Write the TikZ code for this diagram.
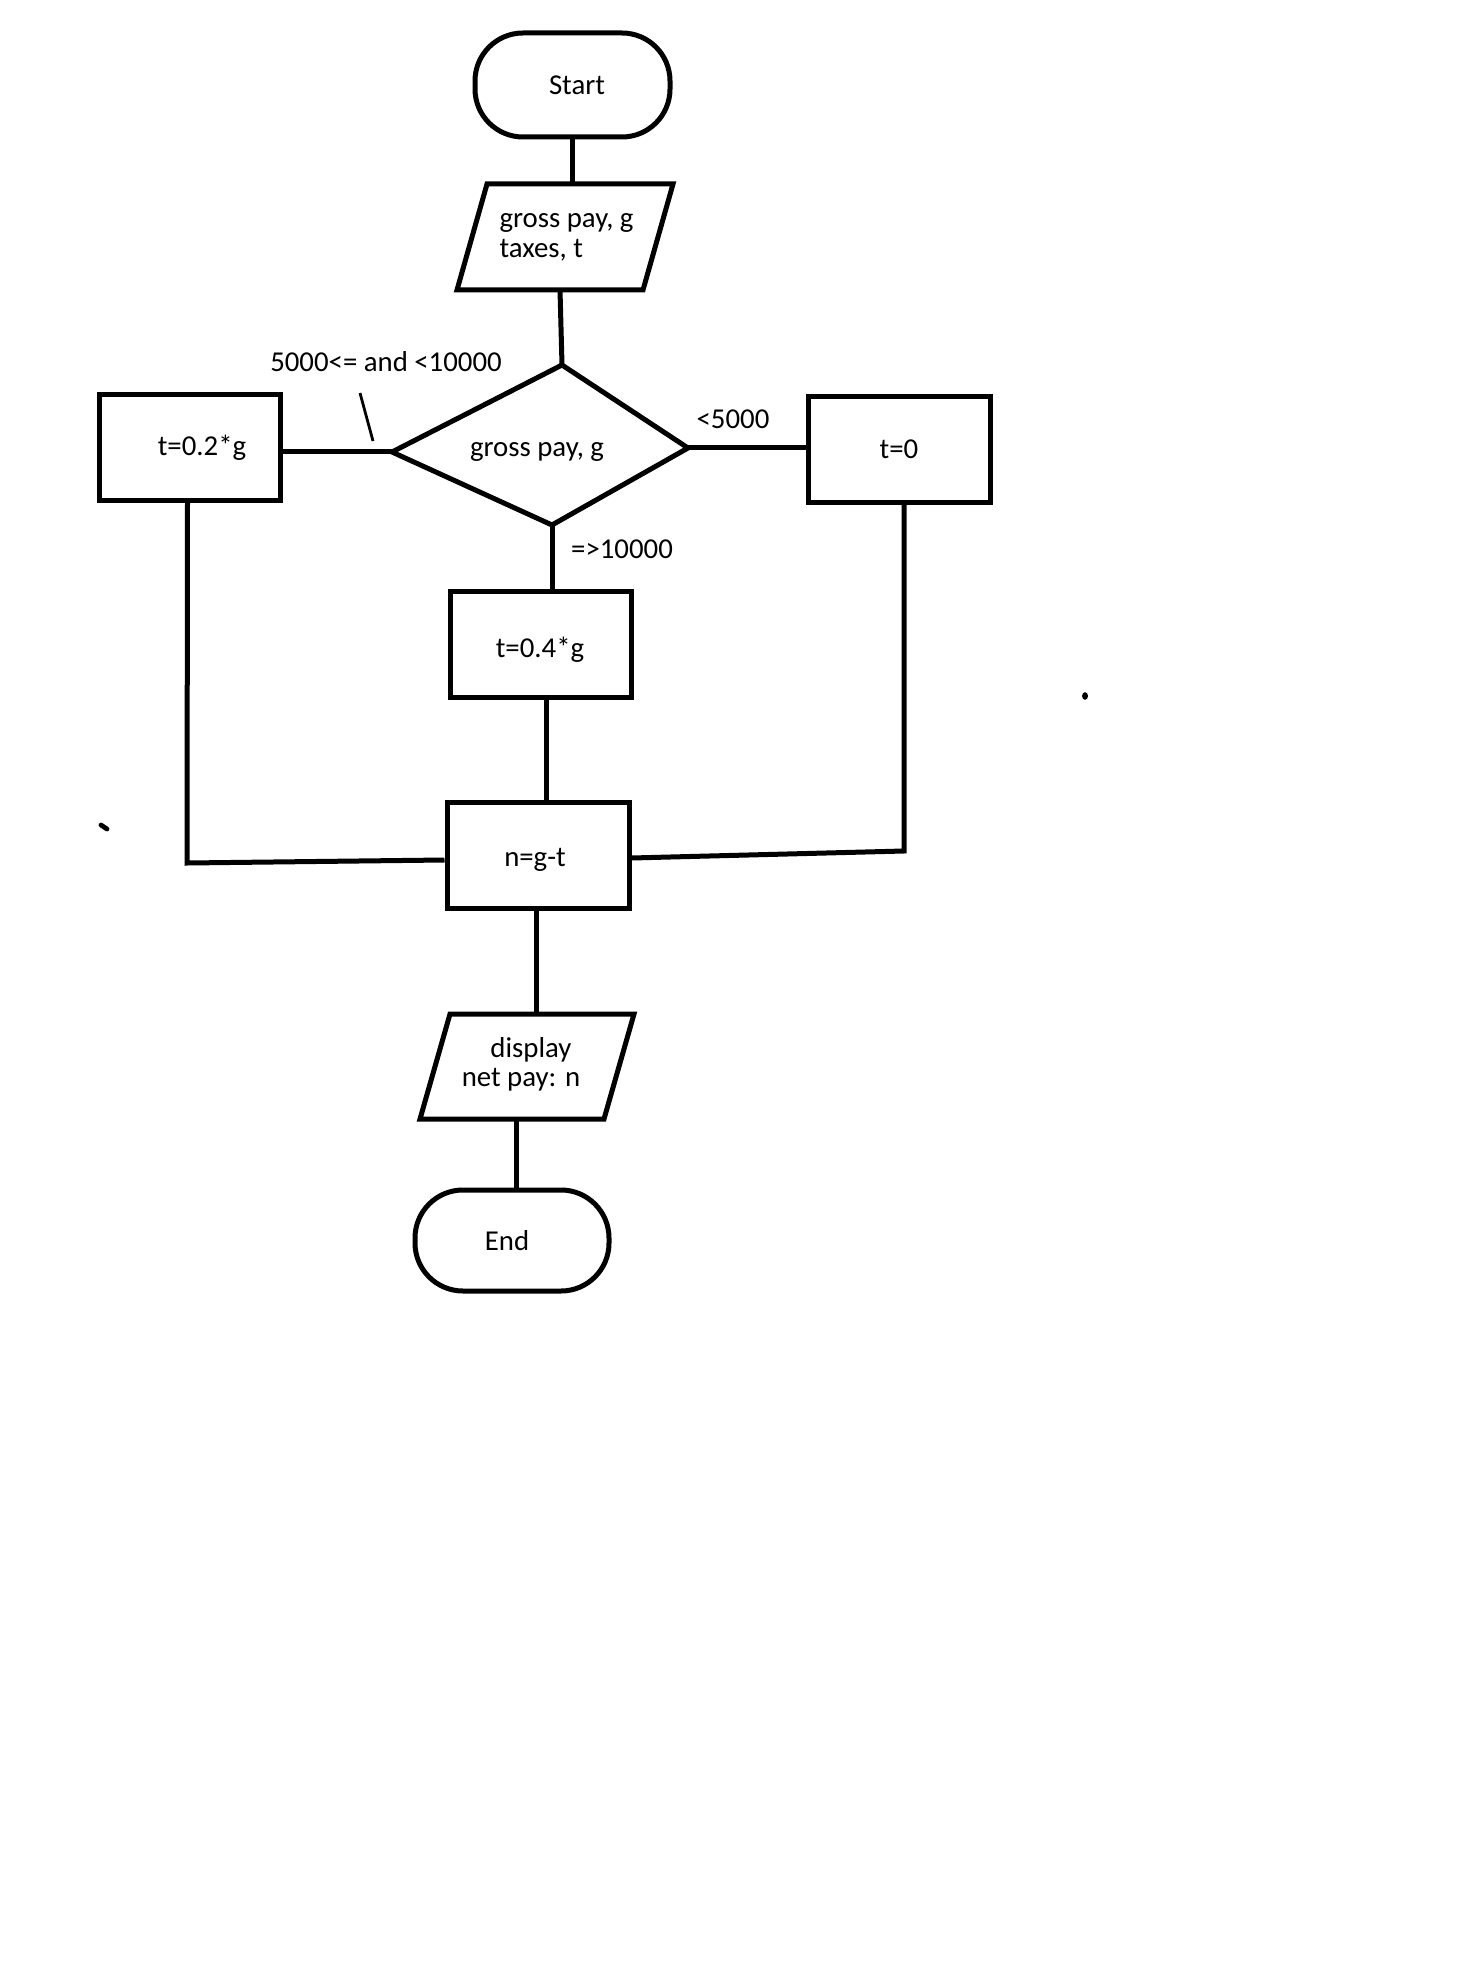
\documentclass[tikz,border=0pt]{standalone}
\usepackage{fontspec}
\setmainfont{Carlito}
\begin{document}
\begin{tikzpicture}[x=0.5pt,y=-0.5pt,line width=2.5pt,
  every node/.style={font=\fontsize{14.4}{15}\selectfont},
  box/.style={draw,rectangle,inner sep=0pt,line width=2.5pt},
  term/.style={draw,rectangle,rounded corners=24pt,inner sep=0pt,line width=2.5pt},
  txt/.style={inner sep=0pt},
  conn/.style={line width=2.5pt}]
\useasboundingbox[fill=white] (0,0) rectangle (1470,1968);

% terminals and boxes
\node[term,minimum width=97.5pt,minimum height=52pt] (start) at (572.5,85) {\hspace*{4.5pt}Start};
\node[box,minimum width=90.5pt,minimum height=52.5pt] (b02) at (189.5,447.5) {\hspace*{12.5pt}t=0.2*g};
\node[box,minimum width=91pt,minimum height=52.5pt] (b0) at (899,449.5) {t=0};
\node[box,minimum width=90.5pt,minimum height=53pt] (b04) at (540.5,644) {};
\node[txt] (b04t) at (540,650) {t=0.4*g};
\node[box,minimum width=91pt,minimum height=53pt] (bn) at (538,855) {};
\node[txt] (bnt) at (535,860) {n=g-t};
\node[term,rounded corners=24pt,minimum width=97pt,minimum height=50.5pt] (end) at (512,1240.5) {End\hspace*{5pt}};

% input parallelogram
\coordinate (p1a) at (487,184);
\coordinate (p1b) at (673,184);
\coordinate (p1c) at (643,290);
\coordinate (p1d) at (457,290);
\draw[line join=miter] (p1a) -- (p1b) -- (p1c) -- (p1d) -- cycle;
\node[txt,anchor=west,align=left] (p1t) at (497,237) {gross pay, g\\taxes, t};
\coordinate (p1bot) at (560,290);

% decision
\coordinate (dt) at (562,365);
\coordinate (dr) at (688,448);
\coordinate (db) at (552,525);
\coordinate (dl) at (392,452);
\draw[line join=miter] (dt) -- (dr) -- (db) -- (dl) -- cycle;
\node[txt] (dtext) at (537,452) {gross pay, g};

% output parallelogram
\coordinate (p2a) at (450,1014);
\coordinate (p2b) at (634,1014);
\coordinate (p2c) at (604,1119);
\coordinate (p2d) at (420,1119);
\draw[line join=miter] (p2a) -- (p2b) -- (p2c) -- (p2d) -- cycle;
\node[txt] (p2t1) at (531,1050) {display};
\node[txt] (p2t2) at (521,1080) {net pay: n};
\coordinate (p2bot) at (516,1119);

% connectors
\draw[conn] (start.south) -- (start.south |- p1a);
\draw[conn] (p1bot) -- (dt);
\draw[conn] (dl) -- (dl -| b02.east);
\draw[conn] (dr) -- (dr -| b0.west);
\draw[conn] (db) -- (db |- b04.north);
\draw[conn] ([xshift=3pt]b04.south) -- ([xshift=3pt]b04.south |- bn.north);
\coordinate (cl) at (187,863);
\coordinate (cr) at (904,851);
\draw[conn,line join=miter] ([xshift=-1pt]b02.south) -- (cl) -- ([yshift=-2.5pt]bn.west);
\draw[conn,line join=miter] ([xshift=2.5pt]b0.south) -- (cr) -- ([yshift=-1.5pt]bn.east);
\draw[conn] ([xshift=-1pt]bn.south) -- ([xshift=-1pt]bn.south |- p2a);
\draw[conn] (p2bot) -- (p2bot |- end.north);

% labels
\node[txt] (l1) at (386,362) {5000<= and <10000};
\coordinate (k1) at (360,393);
\coordinate (k2) at (373,441);
\draw[line width=1.4pt] (k1) -- (k2);
\node[txt] (l2) at (733,419) {<5000};
\node[txt] (l3) at (622,549) {=>10000};

% stray marks
\coordinate (s1) at (1085,696);
\fill (s1) ellipse [x radius=1.5pt, y radius=1.9pt];
\coordinate (s2a) at (101,825);
\coordinate (s2b) at (107,829);
\draw[line width=2.4pt,line cap=round] (s2a) -- (s2b);
\end{tikzpicture}
\end{document}
